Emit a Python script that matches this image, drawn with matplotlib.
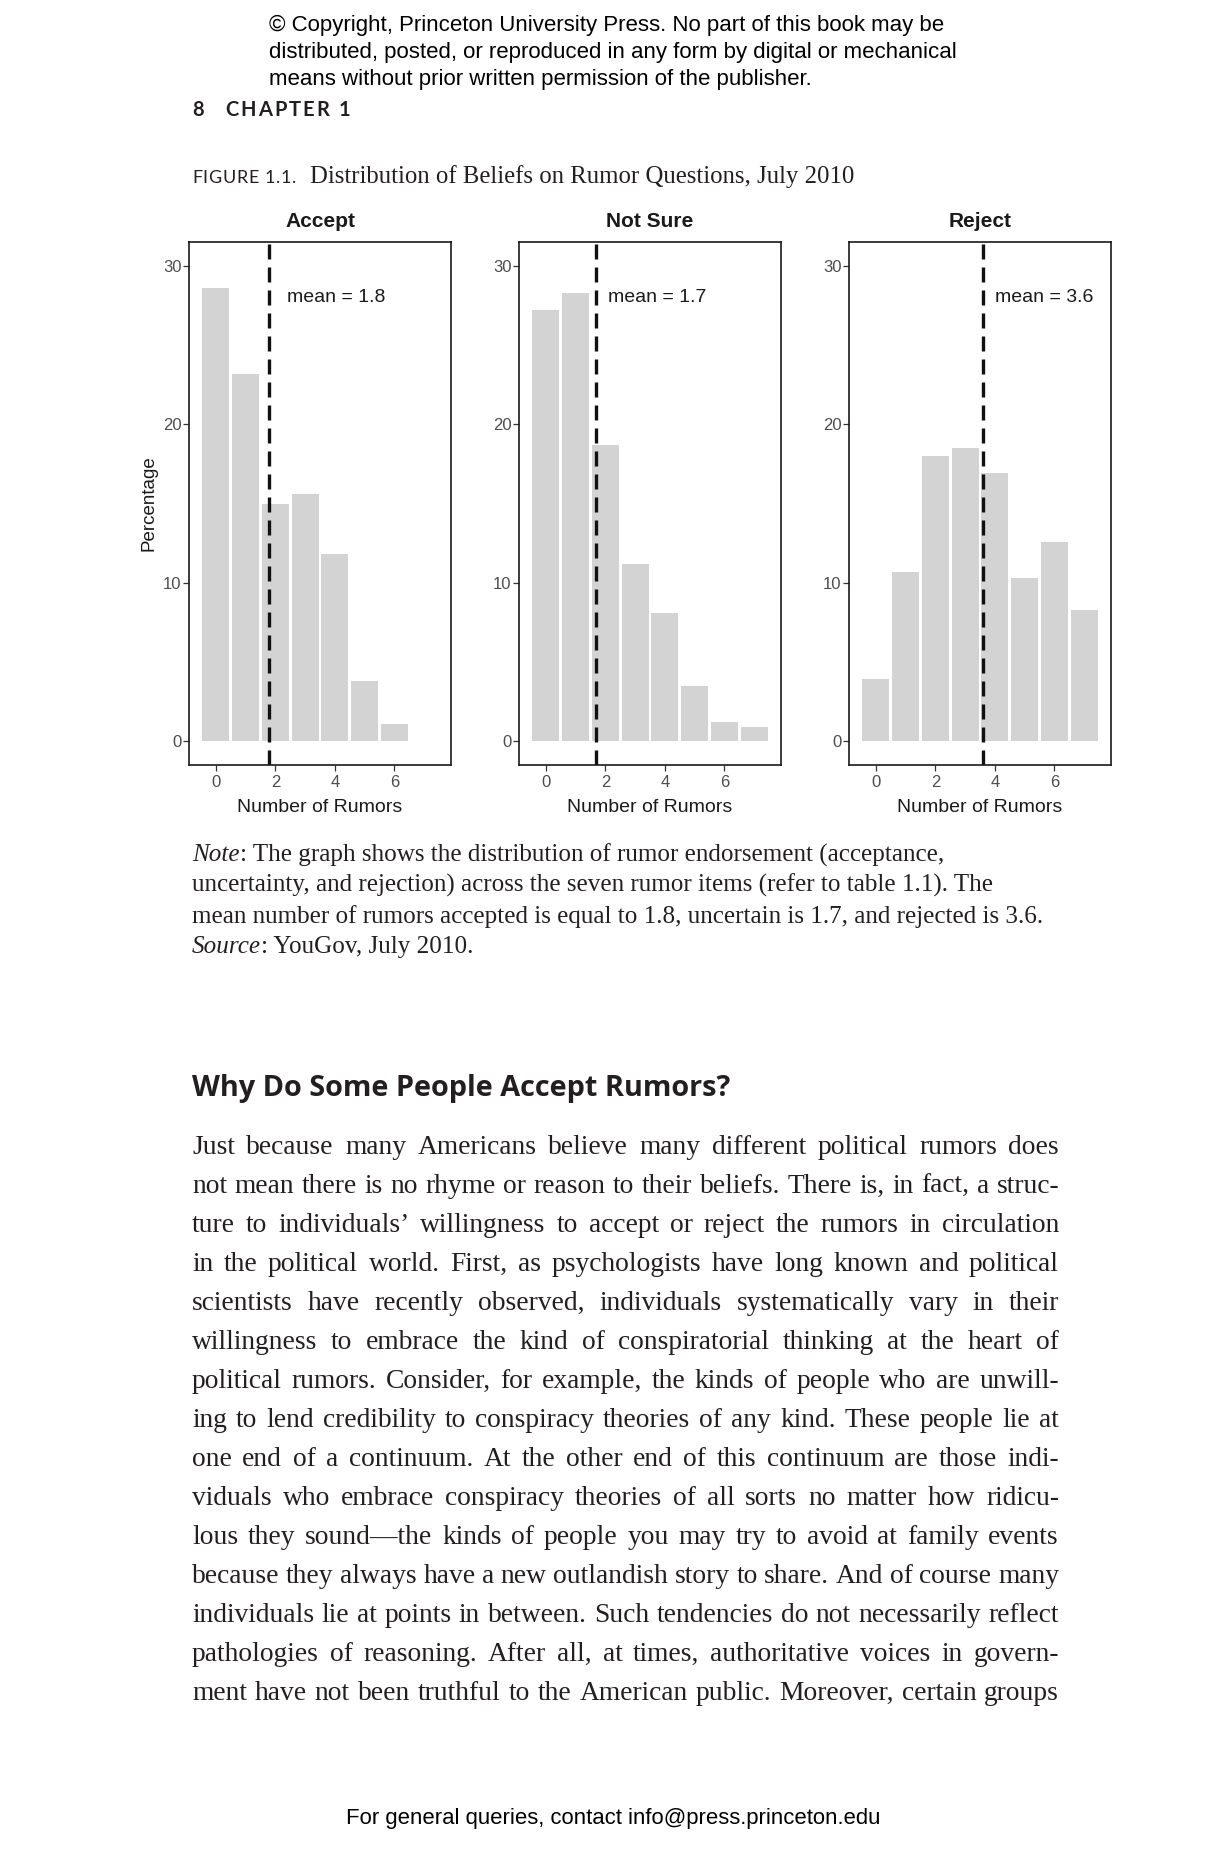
import matplotlib
matplotlib.use("Agg")
import matplotlib.pyplot as plt
import numpy as np

W, H = 1225, 1850

# data (percent of respondents per number of rumors)
rumors = np.arange(8)
panels = ["Accept", "Not Sure", "Reject"]
accept = [28.6, 23.2, 15.0, 15.6, 11.8, 3.8, 1.1]
not_sure = [27.2, 28.3, 18.7, 11.2, 8.1, 3.5, 1.2, 0.9]
reject = [3.9, 10.7, 18.0, 18.5, 16.9, 10.3, 12.6, 8.3]
means = [1.8, 1.7, 3.6]
x_ticks = [0, 2, 4, 6]
y_ticks = [0, 10, 20, 30]

copyright_lines = [
    "\u00a9 Copyright, Princeton University Press. No part of this book may be",
    "distributed, posted, or reproduced in any form by digital or mechanical",
    "means without prior written permission of the publisher.",
]
note_lines = [
    [("Note", "italic"), (": The graph shows the distribution of rumor endorsement (acceptance,", "normal")],
    [("uncertainty, and rejection) across the seven rumor items (refer to table 1.1). The", "normal")],
    [("mean number of rumors accepted is equal to 1.8, uncertain is 1.7, and rejected is 3.6.", "normal")],
    [("Source", "italic"), (": YouGov, July 2010.", "normal")],
]
body_lines = [
    "Just because many Americans believe many different political rumors does",
    "not mean there is no rhyme or reason to their beliefs. There is, in fact, a struc-",
    "ture to individuals\u2019 willingness to accept or reject the rumors in circulation",
    "in the political world. First, as psychologists have long known and political",
    "scientists have recently observed, individuals systematically vary in their",
    "willingness to embrace the kind of conspiratorial thinking at the heart of",
    "political rumors. Consider, for example, the kinds of people who are unwill-",
    "ing to lend credibility to conspiracy theories of any kind. These people lie at",
    "one end of a continuum. At the other end of this continuum are those indi-",
    "viduals who embrace conspiracy theories of all sorts no matter how ridicu-",
    "lous they sound\u2014the kinds of people you may try to avoid at family events",
    "because they always have a new outlandish story to share. And of course many",
    "individuals lie at points in between. Such tendencies do not necessarily reflect",
    "pathologies of reasoning. After all, at times, authoritative voices in govern-",
    "ment have not been truthful to the American public. Moreover, certain groups",
]

SANS = ["Liberation Sans", "DejaVu Sans"]
SERIF = ["Liberation Serif", "DejaVu Serif"]
HEAD = ["Open Sans", "DejaVu Sans"]
CAPS = ["Lato", "Open Sans", "DejaVu Sans"]
INK = "#231f20"

fig = plt.figure(figsize=(W / 100, H / 100), dpi=100)
fig.patch.set_facecolor("white")
renderer = fig.canvas.get_renderer()


def width_of(s, size, **kw):
    t = fig.text(0, 0, s, fontsize=size, **kw)
    w = t.get_window_extent(renderer).width
    t.remove()
    return w


def fit_size(s, width, **kw):
    return 20 * width / width_of(s, 20, **kw)


def put(x, yc, parts, size, **kw):
    # parts: list of (text, style); yc is the visual centre line in pixels
    base = yc + 0.3 * size * 100 / 72
    for s, style in parts:
        t = fig.text(x / W, 1 - base / H, s, fontsize=size, va="baseline",
                     style=style, **kw)
        x += t.get_window_extent(renderer).width


def track(x0, x1, yc, s, size, **kw):
    # letter-spaced caps, stretched to span x0..x1
    em = size * 100 / 72
    ws = [0.28 * em if c == " " else width_of(c, size, **kw) for c in s]
    extra = (x1 - x0 - sum(ws)) / max(len(s) - 1, 1)
    base = yc + 0.36 * em
    x = x0
    for c, wd in zip(s, ws):
        if c != " ":
            fig.text(x / W, 1 - base / H, c, fontsize=size, va="baseline", **kw)
        x += wd + extra


def justify(x0, x1, yc, line, size, **kw):
    words = line.split()
    ws = [width_of(w, size, **kw) for w in words]
    gap = (x1 - x0 - sum(ws)) / (len(words) - 1)
    base = yc + 0.3 * size * 100 / 72
    x = x0
    for w, wd in zip(words, ws):
        fig.text(x / W, 1 - base / H, w, fontsize=size, va="baseline", **kw)
        x += wd + gap


# copyright block
cs = fit_size(copyright_lines[0], 673, family=SANS)
for i, line in enumerate(copyright_lines):
    put(269, 24.5 + 27.1 * i, [(line, "normal")], cs, family=SANS, color="black")

# running head
track(192.5, 203, 108.6, "8", 14.5, family=CAPS, weight="bold", color=INK)
track(225.5, 350.5, 108.6, "CHAPTER 1", 14.5, family=CAPS, weight="bold", color=INK)

# figure caption
track(192, 296, 176.5, "FIGURE 1.1.", 13, family=CAPS, color=INK)
ss = fit_size("Distribution of Beliefs on Rumor Questions, July 2010", 542, family=SERIF)
put(310, 176, [("Distribution of Beliefs on Rumor Questions, July 2010", "normal")],
    ss, family=SERIF, color=INK)

# the three panels
data = [accept, not_sure, reject]
label_x = [2.4, 2.1, 4.0]
for i, (name, vals, m, lx) in enumerate(zip(panels, data, means, label_x)):
    left = 189 + 330 * i
    ax = fig.add_axes([left / W, 1 - 765 / H, 262 / W, 523 / H])
    ax.bar(rumors[:len(vals)], vals, width=0.9, color="#D3D3D3")
    ax.axvline(m, color="#111111", lw=2.4, ls=(0, (4.5, 2.4)))
    ax.text(lx, 28, f"mean = {m}", fontsize=14, family=SANS, color="#1a1a1a",
            va="center", ha="left")
    ax.set_xlim(-0.9, 7.9)
    ax.set_ylim(-1.5, 31.5)
    ax.set_xticks(x_ticks)
    ax.set_yticks(y_ticks)
    ax.tick_params(length=4, width=0.9, labelsize=12, colors="#333333",
                   labelcolor="#4d4d4d")
    ax.tick_params(axis="x", pad=3.0)
    ax.tick_params(axis="y", pad=1.5)
    for lab in ax.get_xticklabels() + ax.get_yticklabels():
        lab.set_family(SANS)
    for sp in ax.spines.values():
        sp.set_linewidth(1.2)
        sp.set_color("#1a1a1a")
    ax.set_title(name, fontsize=15, fontweight="bold", family=SANS, pad=11,
                 color="#1a1a1a")
    ax.set_xlabel("Number of Rumors", fontsize=14, family=SANS, labelpad=6.5,
                  color="#1a1a1a")
    if i == 0:
        ax.set_ylabel("Percentage", fontsize=13.5, family=SANS, labelpad=4,
                      color="#1a1a1a")

# note under the figure
ns = fit_size(note_lines[2][0][0], 854, family=SERIF)
for i, parts in enumerate(note_lines):
    put(192, 853.8 + 30.7 * i, parts, ns, family=SERIF, color=INK)

# section heading
hd = fit_size("Why Do Some People Accept Rumors?", 540, family=HEAD, weight="bold")
put(192, 1087.5, [("Why Do Some People Accept Rumors?", "normal")], hd,
    family=HEAD, weight="bold", color=INK)

# body text, justified
bs = min(fit_size(l, 867, family=SERIF) for l in body_lines)
for i, line in enumerate(body_lines):
    justify(192, 1059, 1146 + 38.95 * i, line, bs, family=SERIF, color=INK)

# footer
fsz = fit_size("For general queries, contact info@press.princeton.edu", 534, family=SANS)
put(346, 1817.5, [("For general queries, contact info@press.princeton.edu", "normal")],
    fsz, family=SANS, color="black")

fig.savefig("out.png", dpi=100)
